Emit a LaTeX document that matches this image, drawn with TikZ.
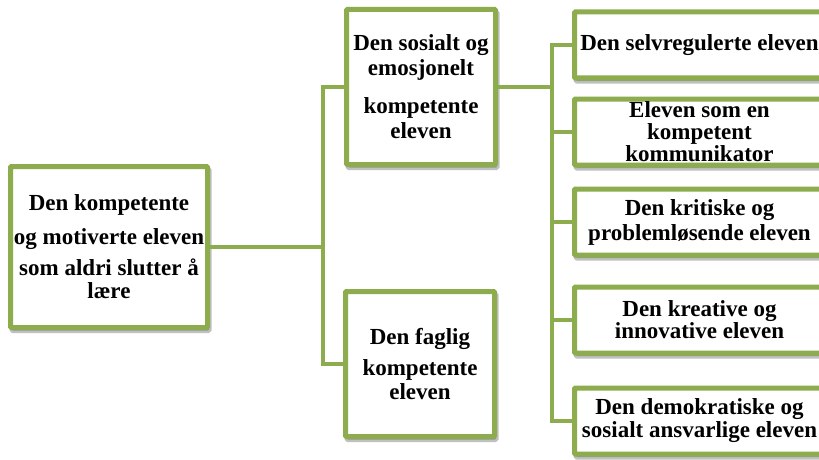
\documentclass[tikz,border=0pt]{standalone}
\usepackage{fontspec}
\setmainfont{Liberation Serif}
\usepackage{xcolor}
\usetikzlibrary{shadows}
\definecolor{leafgreen}{RGB}{140,172,78}

\begin{document}
\begin{tikzpicture}
		[
		x=1pt, y=-1pt,
		every node/.style={font=\bfseries\fontsize{23}{25}\selectfont, align=center, inner sep=0pt},
		goalbox/.style={draw=leafgreen, line width=5pt, fill=white, rounded corners=1pt,
			drop shadow={opacity=0.35, fill=black!70, draw=black!70, line width=5pt,
				shadow xshift=1.5pt, shadow yshift=-3pt}},
		sidebox/.style={goalbox, minimum width=250pt, minimum height=66pt},
		link/.style={draw=leafgreen, line width=3.5pt}
		]
		\useasboundingbox[fill=white] (0,0) rectangle (819,460);
		% main goal
		\node[goalbox, minimum width=197pt, minimum height=161pt] (root) at (109,247)
			{Den kompetente\\[9pt] og motiverte eleven\\[6pt] som aldri slutter å\\[-2pt] lære};
		% two kinds of competence
		\node[goalbox, minimum width=149pt, minimum height=155pt] (social) at (421,87)
			{Den sosialt og\\ emosjonelt\\[13pt] kompetente\\ eleven};
		\node[goalbox, minimum width=149pt, minimum height=145pt] (subject) at (420,364)
			{Den faglig\\[6pt] kompetente\\[-1pt] eleven};
		% social and emotional sides
		\node[sidebox] (selfreg) at (699.5,45) {Den selvregulerte eleven};
		\node[sidebox] (commun) at (699.5,132) {Eleven som en\\[-3pt] kompetent\\[-3pt] kommunikator};
		\node[sidebox] (critical) at (699.5,222) {Den kritiske og\\ problemløsende eleven};
		\node[sidebox] (creative) at (699.5,320) {Den kreative og\\[-3pt] innovative eleven};
		\node[sidebox] (democ) at (699.5,421) {Den demokratiske og\\[-2pt] sosialt ansvarlige eleven};
		% connectors
		\coordinate (forkroot) at (323,247);
		\coordinate (forksocial) at (552,87);
		\draw[link] (root.east) -- (forkroot) |- (social.west);
		\draw[link] (forkroot) |- (subject.west);
		\draw[link] (social.east) -- (forksocial);
		\foreach \side in {selfreg,commun,critical,creative,democ}
			\draw[link] (forksocial) |- (\side.west);
\end{tikzpicture}
\end{document}
